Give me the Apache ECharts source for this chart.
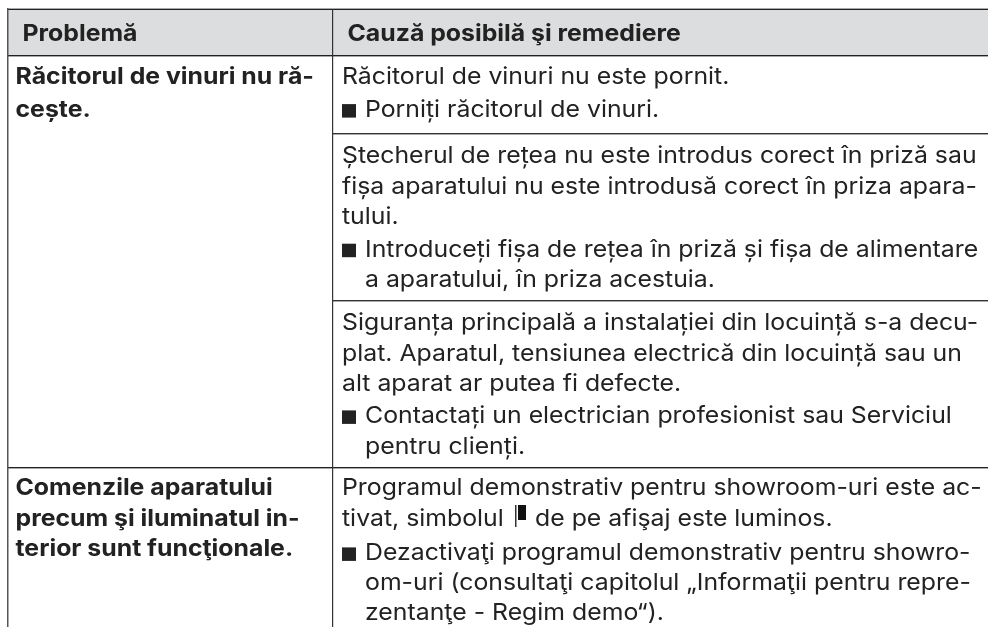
<!DOCTYPE html>
<html>
<head>
<meta charset="utf-8">
<style>html,body{margin:0;padding:0;background:#fff}#main{width:988px;height:627px}</style>
<script src="https://cdn.jsdelivr.net/npm/echarts@6/dist/echarts.min.js"></script>
</head>
<body>
<div id="main"></div>
<script>
const headers = ["Problemă", "Cauză posibilă şi remediere"];
const problemLines = [
  "Răcitorul de vinuri nu ră-",
  "cește.",
  "Comenzile aparatului",
  "precum şi iluminatul in-",
  "terior sunt funcţionale."
];
const causeLines = [
  "Răcitorul de vinuri nu este pornit.",
  "Porniți răcitorul de vinuri.",
  "Ștecherul de rețea nu este introdus corect în priză sau",
  "fișa aparatului nu este introdusă corect în priza apara-",
  "tului.",
  "Introduceți fișa de rețea în priză și fișa de alimentare",
  "a aparatului, în priza acestuia.",
  "Siguranța principală a instalației din locuință s-a decu-",
  "plat. Aparatul, tensiunea electrică din locuință sau un",
  "alt aparat ar putea fi defecte.",
  "Contactați un electrician profesionist sau Serviciul",
  "pentru clienți.",
  "Programul demonstrativ pentru showroom-uri este ac-",
  "tivat, simbolul",
  "Dezactivaţi programul demonstrativ pentru showro-",
  "om-uri (consultaţi capitolul „Informaţii pentru repre-",
  "zentanţe - Regim demo“)."
];
const symbolTail = "de pe afişaj este luminos.";

// layout
var problemY = [76.7, 110, 488.4, 518.7, 549];
var causeY = [76.7, 110.1, 155.7, 186.7, 217.4, 249.7, 279.7, 323.4, 354.1, 384.1, 416.4, 446.7, 488.4, 518.7, 553.4, 583.4, 613.4];
var bulletIdx = [1, 5, 10, 14];
var indentIdx = [1, 5, 6, 10, 11, 14, 15, 16];
var sx = 1.079;
var fam = "Inter, sans-serif";
var ink = "#222";

function txt(x, y, s, weight) {
  return {
    type: "text", x: x, y: y, scaleX: sx, z: 5,
    style: {x: 0, y: 0, text: s, font: weight + " 23px " + fam, fill: ink, textVerticalAlign: "middle"}
  };
}
function box(x, y, w, h, c) {
  return {type: "rect", shape: {x: x, y: y, width: w, height: h}, style: {fill: c}, z: 3};
}

var g = [];
g.push({type: "rect", shape: {x: 7, y: 9, width: 981, height: 46}, style: {fill: "#dcddde"}, z: 1});
// horizontal rules have a soft grey edge next to the dark line
g.push(box(7, 8, 981, 1, "#aaa"), box(7, 9, 981, 1, "#222"));
g.push(box(7, 55, 981, 1, "#222"), box(7, 56, 981, 1, "#aaa"));
g.push(box(332, 133, 656, 1, "#333"), box(332, 134, 656, 1, "#aaa"));
g.push(box(332, 300, 656, 1, "#333"), box(332, 301, 656, 1, "#aaa"));
g.push(box(7, 467, 981, 1, "#222"), box(7, 468, 981, 1, "#aaa"));
g.push(box(7, 8, 1.5, 619, "#555"));
g.push(box(332, 9, 1.2, 618, "#333"));

g.push(txt(22.5, 34.2, headers[0], "bold"));
g.push(txt(347.5, 34.2, headers[1], "bold"));
problemLines.forEach(function (s, i) {
  g.push(txt(15.5, problemY[i], s, "bold"));
});
causeLines.forEach(function (s, i) {
  var x = indentIdx.indexOf(i) >= 0 ? 365 : 342;
  g.push(txt(x, causeY[i], s, "normal"));
});
bulletIdx.forEach(function (i) {
  g.push(box(342, causeY[i] - 6, 14, 13.5, "#222"));
});
// display symbol inside the line
g.push(box(515, 505, 1.5, 22, "#333"));
g.push(box(518, 505, 8, 15, "#111"));
g.push(txt(535, causeY[13], symbolTail, "normal"));

var myChart = echarts.init(document.getElementById("main"), null, {renderer: "canvas"});
myChart.setOption({animation: false, graphic: g});
</script>
</body>
</html>
